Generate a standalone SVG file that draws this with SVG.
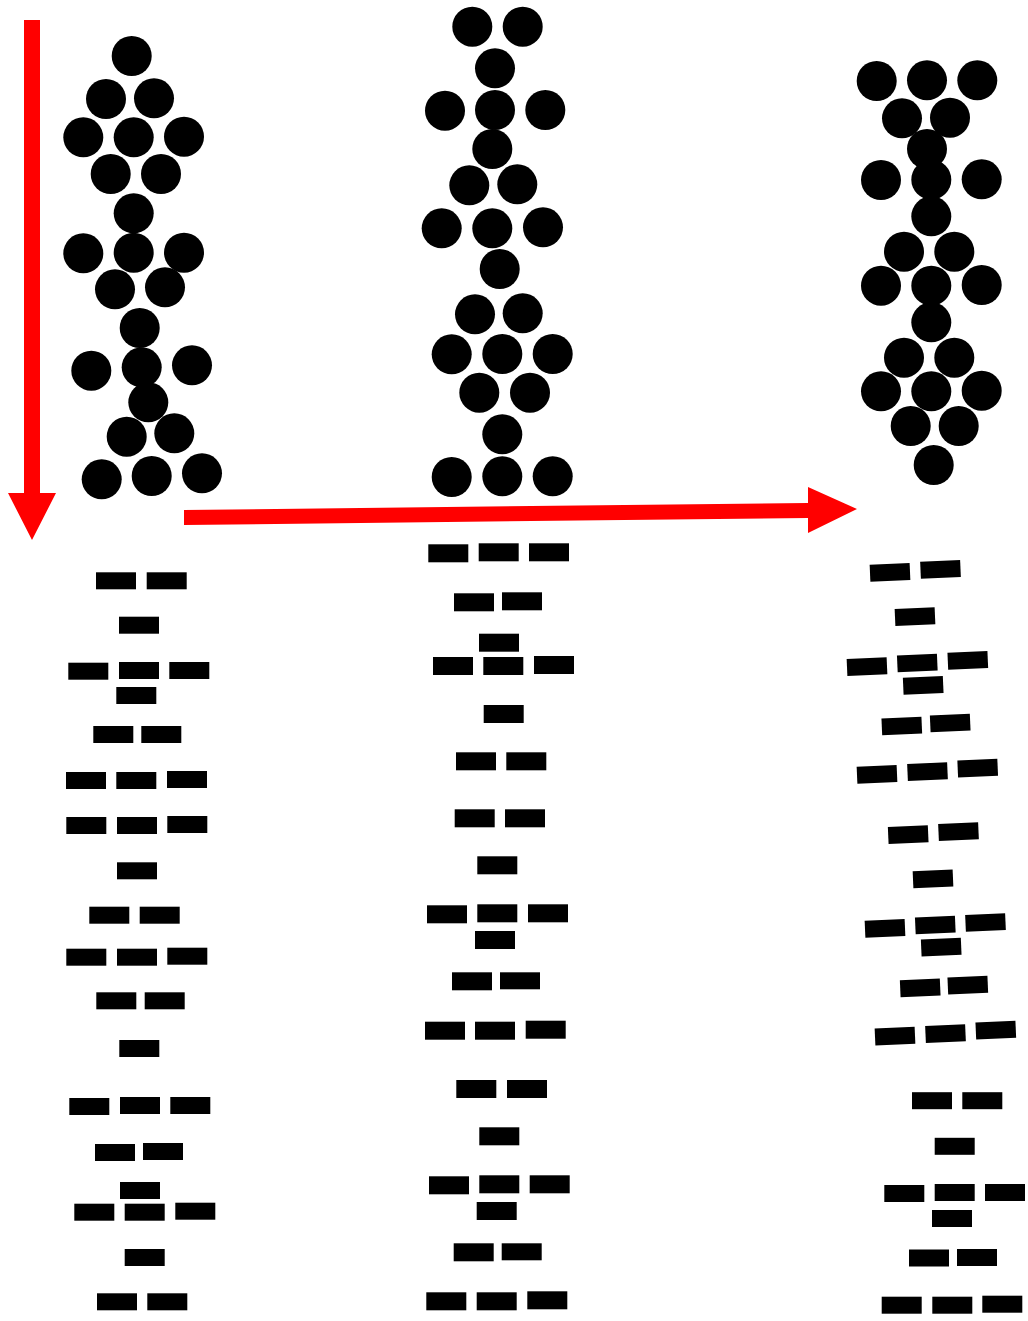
<svg xmlns="http://www.w3.org/2000/svg" width="1028" height="1321" viewBox="0 0 1028 1321">
<style>
.c{fill:#000}
.r{fill:#000}
.a{fill:#ff0000}
</style>
<defs>
<circle id="dot" r="20" class="c"/>
<rect id="bar" x="-20" y="-8.5" width="40" height="17" class="r"/>
</defs>
<rect width="1028" height="1321" fill="#fff"/>
<g id="connectors">
<polygon id="arrow-down" class="a" points="24,20 40,20 40,493 56,493 32,540 8,493 24,493"/>
<polygon id="arrow-right" class="a" points="184,510 808,503 808,487 857,509 808,533 808,518 184,525"/>
</g>
<g id="circles-1">
<use href="#dot" x="131.7" y="56"/>
<use href="#dot" x="106" y="99"/><use href="#dot" x="154" y="98.3"/>
<use href="#dot" x="83.3" y="137.3"/><use href="#dot" x="133.7" y="137.3"/><use href="#dot" x="184" y="136.7"/>
<use href="#dot" x="110.7" y="174"/><use href="#dot" x="161" y="174"/>
<use href="#dot" x="133.7" y="213.3"/>
<use href="#dot" x="83.3" y="253.3"/><use href="#dot" x="133.7" y="252.7"/><use href="#dot" x="184" y="252.7"/>
<use href="#dot" x="115" y="289.3"/><use href="#dot" x="165" y="287.3"/>
<use href="#dot" x="139.7" y="328"/>
<use href="#dot" x="91.3" y="370.7"/><use href="#dot" x="141.7" y="367.3"/><use href="#dot" x="192" y="365.3"/>
<use href="#dot" x="148.3" y="402.3"/>
<use href="#dot" x="126.7" y="436.7"/><use href="#dot" x="174.3" y="433.3"/>
<use href="#dot" x="101.7" y="479.3"/><use href="#dot" x="151.7" y="476"/><use href="#dot" x="202" y="473.3"/>
</g>
<g id="circles-2">
<use href="#dot" x="472.3" y="26.7"/><use href="#dot" x="522.7" y="26.7"/>
<use href="#dot" x="495" y="68.3"/>
<use href="#dot" x="445" y="110.7"/><use href="#dot" x="495" y="110"/><use href="#dot" x="545.3" y="110"/>
<use href="#dot" x="492.3" y="149"/>
<use href="#dot" x="469.3" y="185.3"/><use href="#dot" x="517.3" y="184.3"/>
<use href="#dot" x="441.7" y="228.3"/><use href="#dot" x="492.3" y="228.3"/><use href="#dot" x="543" y="227.3"/>
<use href="#dot" x="499.7" y="269"/>
<use href="#dot" x="475" y="314.3"/><use href="#dot" x="522.7" y="313.3"/>
<use href="#dot" x="451.7" y="354.3"/><use href="#dot" x="502.3" y="354"/><use href="#dot" x="552.7" y="354"/>
<use href="#dot" x="479.3" y="392.7"/><use href="#dot" x="530" y="392.7"/>
<use href="#dot" x="502.3" y="434.3"/>
<use href="#dot" x="451.7" y="477"/><use href="#dot" x="502.3" y="476.3"/><use href="#dot" x="552.7" y="476.3"/>
</g>
<g id="circles-3">
<use href="#dot" x="876.7" y="81"/><use href="#dot" x="927" y="80.3"/><use href="#dot" x="977.3" y="80.3"/>
<use href="#dot" x="902" y="118.3"/><use href="#dot" x="950" y="117.7"/>
<use href="#dot" x="927" y="149"/>
<use href="#dot" x="881" y="180"/><use href="#dot" x="931.3" y="179.7"/><use href="#dot" x="981.7" y="179.3"/>
<use href="#dot" x="931.3" y="216.3"/>
<use href="#dot" x="904" y="251.7"/><use href="#dot" x="954.3" y="251.7"/>
<use href="#dot" x="881" y="285.7"/><use href="#dot" x="931.3" y="285.7"/><use href="#dot" x="981.7" y="285"/>
<use href="#dot" x="931.3" y="322.3"/>
<use href="#dot" x="904" y="357.7"/><use href="#dot" x="954.3" y="357.7"/>
<use href="#dot" x="881" y="391.3"/><use href="#dot" x="931.3" y="391.3"/><use href="#dot" x="981.7" y="390.7"/>
<use href="#dot" x="910.7" y="426"/><use href="#dot" x="958.7" y="426"/>
<use href="#dot" x="933.7" y="465"/>
</g>
<g id="bars-1">
<rect class="r" x="96" y="572.3" width="40" height="17"/><rect class="r" x="146.7" y="572.3" width="40" height="17"/>
<rect class="r" x="119" y="616.7" width="40" height="17"/>
<rect class="r" x="68.3" y="662.7" width="40" height="17"/><rect class="r" x="119" y="662" width="40" height="17"/><rect class="r" x="169.3" y="662" width="40" height="17"/>
<rect class="r" x="116.3" y="687" width="40" height="17"/>
<rect class="r" x="93.3" y="726" width="40" height="17"/><rect class="r" x="141.3" y="726" width="40" height="17"/>
<rect class="r" x="66" y="772" width="40" height="17"/><rect class="r" x="116.3" y="772" width="40" height="17"/><rect class="r" x="167" y="771" width="40" height="17"/>
<rect class="r" x="66.3" y="817" width="40" height="17"/><rect class="r" x="117" y="817" width="40" height="17"/><rect class="r" x="167.3" y="816" width="40" height="17"/>
<rect class="r" x="117" y="862.3" width="40" height="17"/>
<rect class="r" x="89.3" y="906.7" width="40" height="17"/><rect class="r" x="139.7" y="906.7" width="40" height="17"/>
<rect class="r" x="66.3" y="948.7" width="40" height="17"/><rect class="r" x="117" y="948.7" width="40" height="17"/><rect class="r" x="167.3" y="947.7" width="40" height="17"/>
<rect class="r" x="96.3" y="992.3" width="40" height="17"/><rect class="r" x="144.7" y="992.3" width="40" height="17"/>
<rect class="r" x="119.3" y="1040" width="40" height="17"/>
<rect class="r" x="69.3" y="1098" width="40" height="17"/><rect class="r" x="120" y="1097" width="40" height="17"/><rect class="r" x="170.3" y="1097" width="40" height="17"/>
<rect class="r" x="95" y="1144" width="40" height="17"/><rect class="r" x="143" y="1143" width="40" height="17"/>
<rect class="r" x="120" y="1182" width="40" height="17"/>
<rect class="r" x="74.3" y="1203.7" width="40" height="17"/><rect class="r" x="124.7" y="1203.7" width="40" height="17"/><rect class="r" x="175.3" y="1202.7" width="40" height="17"/>
<rect class="r" x="124.7" y="1249" width="40" height="17"/>
<rect class="r" x="97" y="1293.3" width="40" height="17"/><rect class="r" x="147.3" y="1293.3" width="40" height="17"/>
</g>
<g id="bars-2">
<rect class="r" x="428.3" y="544.3" width="40" height="18"/><rect class="r" x="478.7" y="543.3" width="40" height="18"/><rect class="r" x="529" y="543.3" width="40" height="18"/>
<rect class="r" x="454" y="593.3" width="40" height="18"/><rect class="r" x="502" y="592.3" width="40" height="18"/>
<rect class="r" x="479" y="633.7" width="40" height="18"/>
<rect class="r" x="433" y="657" width="40" height="18"/><rect class="r" x="483.3" y="657" width="40" height="18"/><rect class="r" x="534" y="656" width="40" height="18"/>
<rect class="r" x="483.7" y="705" width="40" height="18"/>
<rect class="r" x="456" y="752.3" width="40" height="18"/><rect class="r" x="506.3" y="752.3" width="40" height="18"/>
<rect class="r" x="454.7" y="809.3" width="40" height="18"/><rect class="r" x="505" y="809.3" width="40" height="18"/>
<rect class="r" x="477.3" y="856.3" width="40" height="18"/>
<rect class="r" x="427" y="905.3" width="40" height="18"/><rect class="r" x="477.3" y="904.3" width="40" height="18"/><rect class="r" x="528" y="904.3" width="40" height="18"/>
<rect class="r" x="475" y="931" width="40" height="18"/>
<rect class="r" x="452" y="972.3" width="40" height="18"/><rect class="r" x="500" y="972.3" width="40" height="17"/>
<rect class="r" x="425" y="1021.7" width="40" height="18"/><rect class="r" x="475" y="1021.7" width="40" height="18"/><rect class="r" x="525.7" y="1020.7" width="40" height="18"/>
<rect class="r" x="456.3" y="1080" width="40" height="18"/><rect class="r" x="507" y="1080" width="40" height="18"/>
<rect class="r" x="479.3" y="1127.3" width="40" height="18"/>
<rect class="r" x="429" y="1176.3" width="40" height="18"/><rect class="r" x="479.3" y="1175.3" width="40" height="18"/><rect class="r" x="529.7" y="1175.3" width="40" height="18"/>
<rect class="r" x="476.7" y="1202" width="40" height="18"/>
<rect class="r" x="453.7" y="1243.3" width="40" height="18"/><rect class="r" x="501.7" y="1243.3" width="40" height="17"/>
<rect class="r" x="426.3" y="1292.3" width="40" height="18"/><rect class="r" x="476.7" y="1292.3" width="40" height="18"/><rect class="r" x="527.3" y="1291.3" width="40" height="18"/>
</g>
<g id="bars-3">
<use href="#bar" transform="translate(890,572.3) rotate(-2.5)"/><use href="#bar" transform="translate(940.5,569.3) rotate(-2.5)"/>
<use href="#bar" transform="translate(915,616.7) rotate(-2.5)"/>
<use href="#bar" transform="translate(867,666.7) rotate(-2.5)"/><use href="#bar" transform="translate(917.3,663) rotate(-2.5)"/><use href="#bar" transform="translate(967.8,660.3) rotate(-2.5)"/>
<use href="#bar" transform="translate(923.2,685.3) rotate(-2.5)"/>
<use href="#bar" transform="translate(901.8,726) rotate(-2.5)"/><use href="#bar" transform="translate(950.2,723) rotate(-2.5)"/>
<use href="#bar" transform="translate(877,774.3) rotate(-2.5)"/><use href="#bar" transform="translate(927.5,771.7) rotate(-2.5)"/><use href="#bar" transform="translate(977.7,768.2) rotate(-2.5)"/>
<use href="#bar" transform="translate(908.2,834.7) rotate(-2.5)"/><use href="#bar" transform="translate(958.5,831.7) rotate(-2.5)"/>
<use href="#bar" transform="translate(933,878.8) rotate(-2.5)"/>
<use href="#bar" transform="translate(885,928.3) rotate(-2.5)"/><use href="#bar" transform="translate(935.3,925) rotate(-2.5)"/><use href="#bar" transform="translate(985.5,922.5) rotate(-2.5)"/>
<use href="#bar" transform="translate(941.2,947.2) rotate(-2.5)"/>
<use href="#bar" transform="translate(920.2,987.8) rotate(-2.5)"/><use href="#bar" transform="translate(967.8,985.2) rotate(-2.5)"/>
<use href="#bar" transform="translate(895,1036.2) rotate(-2.5)"/><use href="#bar" transform="translate(945.5,1033.7) rotate(-2.5)"/><use href="#bar" transform="translate(995.8,1030.2) rotate(-2.5)"/>
<use href="#bar" transform="translate(932,1100.7)"/><use href="#bar" transform="translate(982.3,1100.7)"/>
<use href="#bar" transform="translate(954.7,1146.3)"/>
<use href="#bar" transform="translate(904.3,1193.5)"/><use href="#bar" transform="translate(954.7,1192.5)"/><use href="#bar" transform="translate(1005,1192.5)"/>
<use href="#bar" transform="translate(952,1218.5)"/>
<use href="#bar" transform="translate(929,1258)"/><use href="#bar" transform="translate(977,1257.5)"/>
<use href="#bar" transform="translate(901.7,1305.2)"/><use href="#bar" transform="translate(952.3,1305.2)"/><use href="#bar" transform="translate(1002.3,1304.2)"/>
</g>
</svg>
